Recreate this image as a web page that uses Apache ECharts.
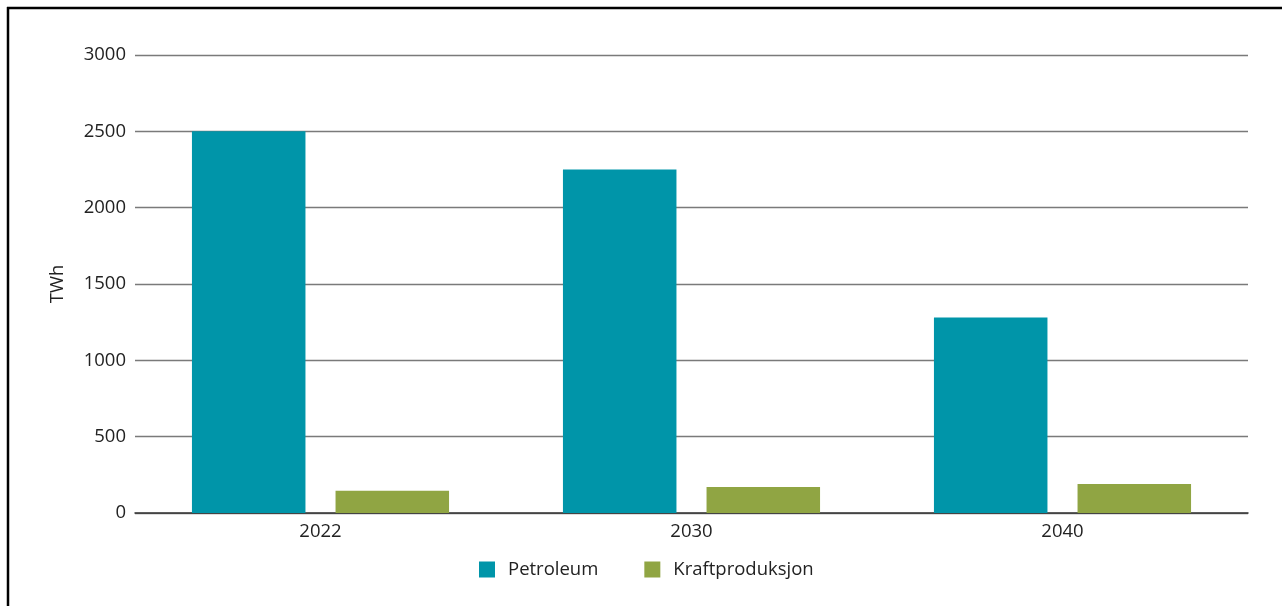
<!DOCTYPE html>
<html>
<head>
<meta charset="utf-8">
<script src="https://cdn.jsdelivr.net/npm/echarts@6/dist/echarts.min.js"></script>
<style>
html,body{margin:0;padding:0;background:#fff;}
#c{width:1282px;height:606px;}
</style>
</head>
<body>
<div id="c"></div>
<script>
const categories = ['2022', '2030', '2040'];
const petroleum = [2500, 2250, 1280];
const kraftproduksjon = [145, 170, 190];
const seriesNames = ['Petroleum', 'Kraftproduksjon'];
const yTicks = { min: 0, max: 3000, interval: 500 };

const chart = echarts.init(document.getElementById('c'), null, { renderer: 'canvas' });
const font = '"Open Sans", "Noto Sans", sans-serif';
const fs = 18.5;
chart.setOption({
  backgroundColor: '#fff',
  animation: false,
  grid: { left: 135, right: 34, top: 55, bottom: 93 },
  legend: {
    bottom: 22,
    left: 474,
    itemWidth: 16,
    itemHeight: 16,
    itemGap: 46,
    icon: 'rect',
    textStyle: { fontFamily: font, fontSize: fs, color: '#222', padding: [0, 0, 0, 8] },
    data: seriesNames
  },
  xAxis: {
    type: 'category',
    data: categories,
    axisLine: { lineStyle: { color: '#333', width: 1.5 } },
    axisTick: { show: false },
    axisLabel: { fontFamily: font, fontSize: fs, color: '#222', margin: 9 }
  },
  yAxis: {
    type: 'value',
    min: yTicks.min, max: yTicks.max, interval: yTicks.interval,
    name: 'TWh',
    nameLocation: 'middle',
    nameGap: 68,
    nameTextStyle: { fontFamily: font, fontSize: fs, color: '#222' },
    axisLine: { show: false },
    axisTick: { show: false },
    axisLabel: { fontFamily: font, fontSize: fs, color: '#222', margin: 9, formatter: v => String(v) },
    splitLine: { lineStyle: { color: '#7a7a7a', width: 1.3 } }
  },
  series: [
    {
      name: seriesNames[0], type: 'bar', data: petroleum,
      itemStyle: { color: '#0095A9' },
      barGap: '26.5%', barCategoryGap: '30.7%'
    },
    {
      name: seriesNames[1], type: 'bar', data: kraftproduksjon,
      itemStyle: { color: '#90A543' },
      barGap: '26.5%', barCategoryGap: '30.7%'
    }
  ],
  graphic: [
    { type: 'line', shape: { x1: 7, y1: 8, x2: 1282, y2: 8 }, style: { stroke: '#000', lineWidth: 2.5 } },
    { type: 'line', shape: { x1: 8, y1: 7, x2: 8, y2: 606 }, style: { stroke: '#000', lineWidth: 2.5 } }
  ]
});
</script>
</body>
</html>
